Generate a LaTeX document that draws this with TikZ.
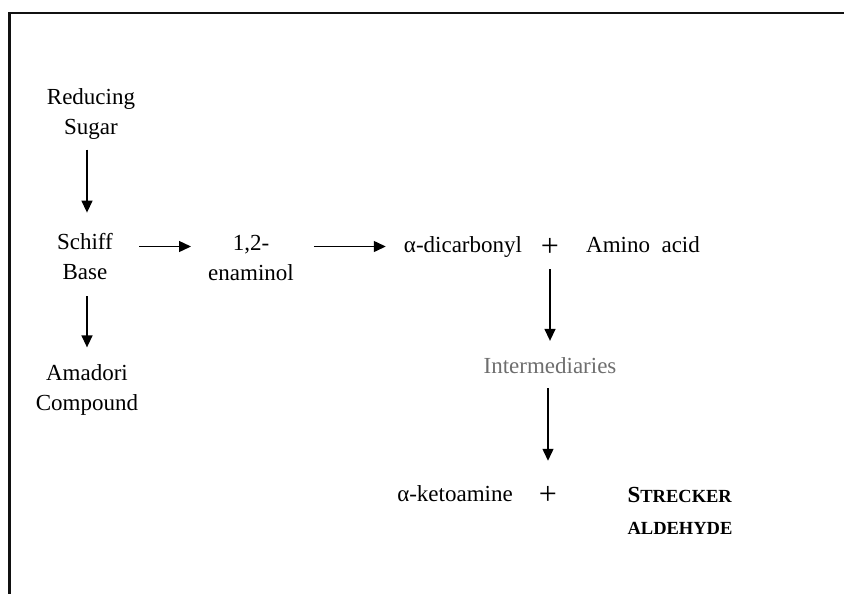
\documentclass[tikz,border=0pt]{standalone}
\usepackage{fontspec}
\setmainfont{Liberation Serif}
\usetikzlibrary{arrows.meta,positioning}
\definecolor{frame}{HTML}{111111}
\definecolor{midgray}{HTML}{6E6E6E}

\begin{document}
\begin{tikzpicture}[x=1pt,y=-1pt,
  lbl/.style={inner sep=0pt,align=center,font=\fontsize{23}{30}\selectfont},
  plus/.style={inner sep=0pt,font=\fontsize{32}{32}\selectfont},
  react/.style={-{Triangle[width=11pt,length=12pt]},line width=1.4pt}]
  \useasboundingbox (0,0) rectangle (844,594);
  % Frame, only the top and left edges show
  \draw[frame,line width=2.6pt] (9.7,594) -- (9.7,13) -- (844,13);

  % Left column
  \node[lbl] (sugar) at (91,114) {Reducing\\Sugar};
  \node[lbl] (schiff) at (85,257) {Schiff\\Base};
  \node[lbl] (amadori) at (87,390) {Amadori\\Compound};
  \draw[react,shorten <=10pt,shorten >=21pt] (sugar.south -| amadori) -- (schiff.north -| amadori);
  \draw[react,shorten <=16pt,shorten >=17pt] (schiff.south -| amadori) -- (amadori.north);

  % Top row
  \node[lbl] (enam) at (251,258) {1,2-\\enaminol};
  \node[lbl,anchor=base] (dicarb) at (463,252) {α-dicarbonyl};
  \node[plus] (plusa) at (550,247) {+};
  \node[lbl,anchor=base] (amino) at (643,252) {Amino\ \ acid};
  \draw[react,shorten <=26pt,shorten >=17pt] (schiff.east |- dicarb) -- (enam.west |- dicarb);
  \draw[react,shorten <=20pt,shorten >=18pt] (enam.east |- dicarb) -- (dicarb.west);

  % Down the middle
  \node[lbl,anchor=base,text=midgray] (inter) at (550,373) {Intermediaries};
  \node[plus] (plusb) at (548,495) {+};
  \node[lbl,anchor=base] (keto) at (455,501) {α-ketoamine};
  \node[inner sep=0pt,align=left,font=\bfseries\fontsize{18.5}{32}\selectfont] (strecker) at (680,511)
    {{\fontsize{23}{32}\selectfont S}TRECKER\\ALDEHYDE};
  \draw[react,shorten <=13pt,shorten >=16pt] (plusa.south) -- (plusa.south |- inter.north);
  \draw[react,shorten <=15pt,shorten >=25pt] (inter.south -| plusb) -- (plusb.north);
\end{tikzpicture}
\end{document}
